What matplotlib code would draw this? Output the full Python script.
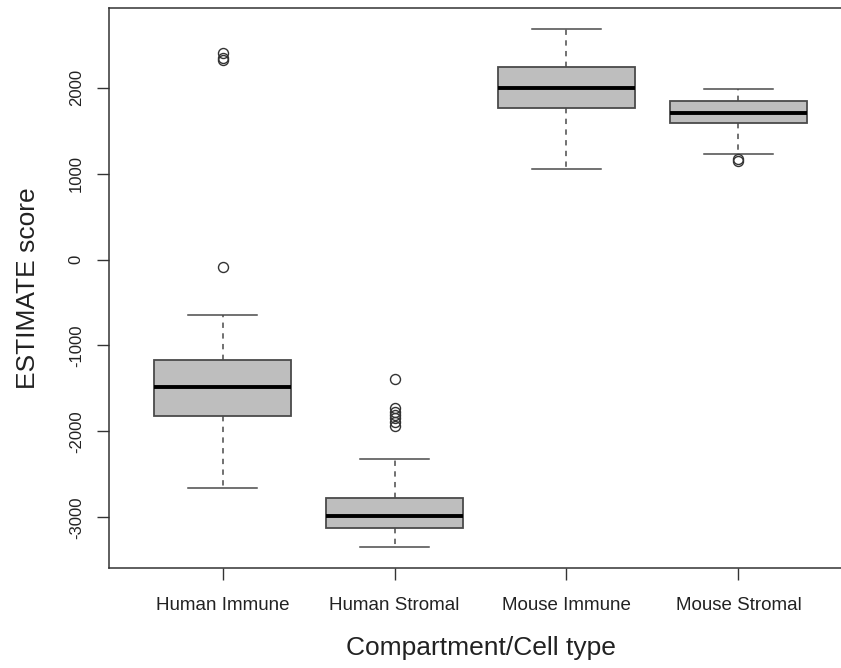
import matplotlib
matplotlib.use("Agg")
import matplotlib.pyplot as plt

plt.rcParams['font.family'] = ['Liberation Sans', 'DejaVu Sans']

categories = ["Human Immune", "Human Stromal", "Mouse Immune", "Mouse Stromal"]

# Five-number summaries (lower whisker, Q1, median, Q3, upper whisker)
whislo = [-2663, -3349, 1058, 1233]
q1 = [-1826, -3128, 1767, 1593]
med = [-1488, -2988, 2000, 1709]
q3 = [-1174, -2780, 2244, 1849]
whishi = [-651, -2326, 2686, 1988]

# Points beyond the whiskers
outliers = [
    [2400, 2340, 2320, -85],
    [-1390, -1730, -1770, -1810, -1850, -1890, -1940],
    [],
    [1165, 1145],
]

yticks = [-3000, -2000, -1000, 0, 1000, 2000]

stats = []
for i, name in enumerate(categories):
    stats.append(dict(label=name, whislo=whislo[i], q1=q1[i], med=med[i],
                      q3=q3[i], whishi=whishi[i], fliers=outliers[i]))

W, H = 841, 668
fig = plt.figure(figsize=(W / 100, H / 100), dpi=100)
left, right, top, bottom = 109, 852, 8, 568
ax = fig.add_axes([left / W, 1 - bottom / H, (right - left) / W, (bottom - top) / H])

edge = "#4a4a4a"
ax.bxp(stats, positions=[1, 2, 3, 4], widths=0.8, patch_artist=True,
       boxprops=dict(facecolor="#bebebe", edgecolor=edge, linewidth=1.3),
       medianprops=dict(color="black", linewidth=2.8, solid_capstyle="butt"),
       whiskerprops=dict(color=edge, linewidth=1.1, linestyle=(0, (3.5, 3.5))),
       capprops=dict(color=edge, linewidth=1.1),
       capwidths=0.4,
       flierprops=dict(marker="o", markerfacecolor="none", markeredgecolor="#333333",
                       markersize=7.2, markeredgewidth=1.0, linestyle="none"))

# R-style axis ranges (data range extended by 4%)
lo = min(min(whislo), min(min(o) for o in outliers if o))
hi = max(max(whishi), max(max(o) for o in outliers if o))
span = hi - lo
ax.set_ylim(lo - 0.04 * span, hi + 0.04 * span)
ax.set_xlim(0.5 - 0.16, 4.5 + 0.16)

ax.set_yticks(yticks)
ax.set_yticklabels([str(t) for t in yticks], rotation=90, va="center")
ax.set_xticks([1, 2, 3, 4])
ax.set_xticklabels(categories)

ax.tick_params(axis="y", length=8.6, width=1.0, pad=9.5, labelsize=12,
               colors="#333333", labelcolor="#222222")
ax.tick_params(axis="x", length=8.6, width=1.0, pad=12, labelsize=13.5,
               colors="#333333", labelcolor="#222222")

for side in ["left", "bottom", "top", "right"]:
    ax.spines[side].set_color("#333333")
    ax.spines[side].set_linewidth(1.1)

ax.set_ylabel("ESTIMATE score", fontsize=19, color="#222222")
ax.yaxis.set_label_coords((28 - left) / (right - left), 0.5)
ax.set_xlabel("Compartment/Cell type", fontsize=19, color="#222222")
ax.xaxis.set_label_coords(0.5, -(648 - bottom) / (bottom - top))
ax.yaxis.label.set_va("center")
ax.xaxis.label.set_va("center")

fig.savefig("out.png", dpi=100)
